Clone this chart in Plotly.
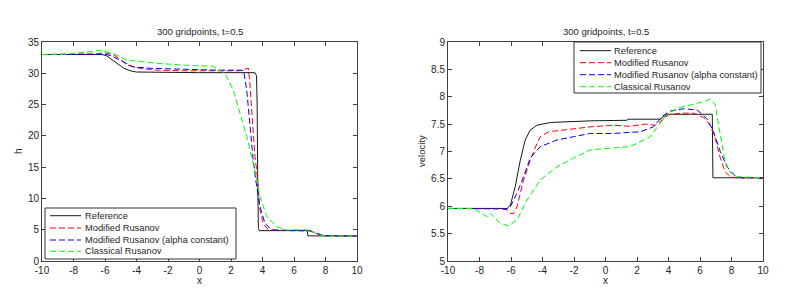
import plotly.graph_objects as go

W, H = 792, 293

# ---------------- data: left panel (water height h) ----------------
h_ref_x = [-10, -6.2, -5.9, -5.5, -5.1, -4.8, -4.4, -4.0, 0, 3.52, 3.62, 3.66, 3.7, 3.74, 3.8, 6.85, 6.88, 10]
h_ref_y = [33, 33, 32.8, 32.1, 31.3, 30.8, 30.4, 30.2, 30.1, 30.1, 29.6, 25, 12, 5.2, 4.85, 4.85, 4.02, 4.0]

h_mod_x = [-10, -7, -6.5, -6.1, -5.5, -5.0, -4.6, -3.8, -2.7, -1, 1.4, 2.5, 3.1, 3.2, 3.3, 3.4, 3.52, 3.63, 3.73, 3.84, 4.05, 4.37, 4.8, 6.5, 7.0, 7.4, 7.8, 10]
h_mod_y = [33, 33, 33.1, 33.3, 33.0, 32.2, 31.3, 30.8, 30.5, 30.4, 30.4, 30.4, 30.8, 28.4, 24.6, 20.4, 16.7, 14.5, 11.3, 8.1, 6.0, 4.95, 4.9, 4.9, 4.8, 4.4, 4.05, 4.0]

h_alp_x = [-10, -6.5, -6.0, -5.6, -5.0, -4.2, -3.1, -1.0, 1.1, 2.6, 2.8, 3.0, 3.16, 3.3, 3.41, 3.63, 3.84, 4.16, 4.58, 5.0, 6.5, 7.0, 7.5, 7.9, 10]
h_alp_y = [33, 33, 33.05, 32.8, 32.0, 31.0, 30.8, 30.6, 30.5, 30.5, 30.4, 27.3, 22.5, 18.3, 16.1, 11.9, 8.7, 6.0, 5.0, 4.95, 4.9, 4.85, 4.4, 4.05, 4.0]

h_cls_x = [-10, -8.5, -7.4, -6.3, -5.5, -4.6, -3.8, -2.7, -1.0, 0.9, 1.62, 2.15, 2.57, 3.0, 3.3, 3.52, 3.84, 4.27, 4.9, 5.5, 6.5, 7.0, 7.33, 7.84, 10]
h_cls_y = [33, 33.05, 33.3, 33.7, 33.2, 32.1, 31.9, 31.6, 31.3, 31.1, 30.0, 27.3, 23.6, 19.9, 16.7, 14.5, 10.3, 7.1, 5.5, 4.95, 5.0, 4.95, 4.5, 4.0, 4.0]

# ---------------- data: right panel (velocity) ----------------
v_ref_x = [-10, -6.25, -6.04, -5.73, -5.41, -5.1, -4.78, -4.35, -3.5, -0.96, 1.37, 1.42, 3.48, 3.9, 6.78, 6.82, 10]
v_ref_y = [5.96, 5.96, 6.02, 6.36, 6.84, 7.21, 7.39, 7.48, 7.53, 7.56, 7.57, 7.59, 7.59, 7.68, 7.68, 6.52, 6.52]

v_mod_x = [-10, -6.6, -6.25, -6.04, -5.83, -5.62, -5.2, -4.78, -4.35, -4.14, -3.61, -2.66, -0.96, 0.5, 1.5, 2.5, 3.2, 4.0, 4.75, 5.6, 6.23, 6.65, 6.97, 7.29, 7.6, 7.92, 8.3, 10]
v_mod_y = [5.96, 5.96, 5.93, 5.87, 5.87, 5.99, 6.48, 6.84, 7.15, 7.27, 7.36, 7.39, 7.45, 7.48, 7.46, 7.5, 7.48, 7.67, 7.7, 7.7, 7.62, 7.48, 7.24, 6.88, 6.63, 6.54, 6.52, 6.52]

v_alp_x = [-10, -6.5, -6.25, -6.04, -5.62, -5.2, -4.78, -4.14, -3.08, -2.03, -0.96, 0.5, 2.2, 3.04, 3.59, 4.12, 4.96, 5.81, 6.44, 6.86, 7.29, 7.71, 8.24, 8.6, 10]
v_alp_y = [5.96, 5.96, 5.95, 5.99, 6.24, 6.54, 6.88, 7.09, 7.21, 7.27, 7.33, 7.33, 7.36, 7.45, 7.64, 7.74, 7.78, 7.76, 7.6, 7.36, 7.0, 6.72, 6.55, 6.52, 6.52]

v_cls_x = [-10, -8.4, -7.52, -7.3, -6.68, -6.15, -5.62, -4.99, -4.14, -3.08, -2.03, -0.96, 1.57, 2.2, 2.84, 3.37, 3.9, 4.54, 5.38, 6.23, 6.65, 6.97, 7.18, 7.4, 7.6, 7.92, 8.35, 10]
v_cls_y = [5.96, 5.96, 5.81, 5.87, 5.69, 5.64, 5.75, 6.11, 6.48, 6.72, 6.88, 7.03, 7.09, 7.18, 7.27, 7.48, 7.67, 7.79, 7.85, 7.91, 7.96, 7.85, 7.48, 7.12, 6.81, 6.62, 6.54, 6.52]

# ---------------- labels / ticks ----------------
series_names = ["Reference", "Modified Rusanov", "Modified Rusanov (alpha constant)", "Classical Rusanov"]
series_colors = ["#1a1a1a", "#ff0000", "#0000ff", "#00ff00"]
series_dash = ["solid", "6px,3px", "6px,3px", "6px,3px"]

title_text = "300 gridpoints, t=0.5"
x_tickvals = [-10, -8, -6, -4, -2, 0, 2, 4, 6, 8, 10]
x_ticktext = ["-10", "-8", "-6", "-4", "-2", "0", "2", "4", "6", "8", "10"]
h_tickvals = [0, 5, 10, 15, 20, 25, 30, 35]
v_tickvals = [5, 5.5, 6, 6.5, 7, 7.5, 8, 8.5, 9]
v_ticktext = ["5", "5.5", "6", "6.5", "7", "7.5", "8", "8.5", "9"]

FONT = "Liberation Sans, Arial, sans-serif"
TXT = "#262626"

def px(x):
    return x / W

def py(y):
    return 1 - y / H

fig = go.Figure()

left = [(h_ref_x, h_ref_y), (h_mod_x, h_mod_y), (h_alp_x, h_alp_y), (h_cls_x, h_cls_y)]
right = [(v_ref_x, v_ref_y), (v_mod_x, v_mod_y), (v_alp_x, v_alp_y), (v_cls_x, v_cls_y)]

for i, (xs, ys) in enumerate(left):
    fig.add_trace(go.Scatter(x=xs, y=ys, mode="lines", name=series_names[i],
                             line=dict(color=series_colors[i], width=1, dash=series_dash[i]),
                             xaxis="x", yaxis="y", showlegend=False))
for i, (xs, ys) in enumerate(right):
    fig.add_trace(go.Scatter(x=xs, y=ys, mode="lines", name=series_names[i],
                             line=dict(color=series_colors[i], width=1, dash=series_dash[i]),
                             xaxis="x2", yaxis="y2", showlegend=False))

axis_common = dict(showgrid=False, zeroline=False, showline=True, linecolor="#404040", linewidth=1,
                   mirror="ticks", ticks="inside", ticklen=4, tickcolor="#404040", automargin=False,
                   tickfont=dict(family=FONT, size=10, color=TXT))

Ltop, Lbot = 42, 261
fig.update_layout(
    width=W, height=H,
    margin=dict(l=0, r=0, t=0, b=0, autoexpand=False),
    paper_bgcolor="white", plot_bgcolor="white",
    xaxis=dict(domain=[px(42), px(357)], range=[-10, 10], tickvals=x_tickvals, ticktext=x_ticktext,
               anchor="y", **axis_common),
    yaxis=dict(domain=[py(Lbot), py(Ltop)], range=[0, 35], tickvals=h_tickvals, anchor="x", **axis_common),
    xaxis2=dict(domain=[px(448), px(763)], range=[-10, 10], tickvals=x_tickvals, ticktext=x_ticktext,
                anchor="y2", **axis_common),
    yaxis2=dict(domain=[py(Lbot), py(Ltop)], range=[5, 9], tickvals=v_tickvals, ticktext=v_ticktext,
                anchor="x2", **axis_common),
)

annots = []
shapes = []
# titles and axis labels
for cx in (199.5, 605.5):
    annots.append(dict(x=px(cx), y=py(32), xref="paper", yref="paper", text=title_text, showarrow=False,
                       xanchor="center", yanchor="middle", font=dict(family=FONT, size=9.5, color=TXT)))
    annots.append(dict(x=px(cx), y=py(280), xref="paper", yref="paper", text="x", showarrow=False,
                       xanchor="center", yanchor="middle", font=dict(family=FONT, size=10, color=TXT)))
annots.append(dict(x=px(18), y=py(151), xref="paper", yref="paper", text="h", showarrow=False, textangle=-90,
                   xanchor="center", yanchor="middle", font=dict(family=FONT, size=10, color=TXT)))
annots.append(dict(x=px(421), y=py(151), xref="paper", yref="paper", text="velocity", showarrow=False,
                   textangle=-90, xanchor="center", yanchor="middle", font=dict(family=FONT, size=9.5, color=TXT)))

# manual legends (box, sample lines, labels)
def legend(x0, y0, x1, y1, rows, lx0, lx1, tx):
    shapes.append(dict(type="rect", xref="paper", yref="paper", x0=px(x0), x1=px(x1), y0=py(y1), y1=py(y0),
                       line=dict(color="#333333", width=1), fillcolor="white", layer="above"))
    for i, ry in enumerate(rows):
        shapes.append(dict(type="line", xref="paper", yref="paper", x0=px(lx0), x1=px(lx1), y0=py(ry), y1=py(ry),
                           line=dict(color=series_colors[i], width=1, dash=series_dash[i]),
                           layer="above"))
        annots.append(dict(x=px(tx), y=py(ry), xref="paper", yref="paper", text=series_names[i], showarrow=False,
                           xanchor="left", yanchor="middle", font=dict(family=FONT, size=9.3, color=TXT)))

legend(45, 208, 236, 259, [215.7, 228, 240, 251.3], 50, 81, 83)
legend(574, 42, 761, 93, [50.7, 62.7, 74.7, 86.7], 580, 611, 612)

fig.update_layout(annotations=annots, shapes=shapes)
fig.write_html("out.html", config={"displayModeBar": False},
               post_script="document.body.style.margin='0px';document.body.style.overflow='hidden';")
